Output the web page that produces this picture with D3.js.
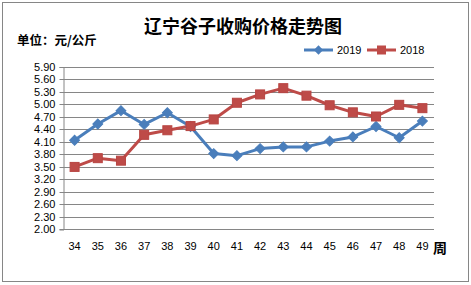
<!DOCTYPE html>
<html><head><meta charset="utf-8">
<script src="https://cdn.jsdelivr.net/npm/d3@7"></script>
<style>body{margin:0;background:#fff}svg{display:block}</style>
</head><body>
<script>
const weeks = ["34","35","36","37","38","39","40","41","42","43","44","45","46","47","48","49"];
const s2019 = [4.13,4.52,4.84,4.51,4.79,4.46,3.81,3.76,3.93,3.97,3.97,4.11,4.21,4.46,4.19,4.59];
const s2018 = [3.49,3.70,3.64,4.26,4.37,4.47,4.63,5.03,5.23,5.38,5.20,4.97,4.80,4.70,4.98,4.90];
const yTicks = [2.00,2.30,2.60,2.90,3.20,3.50,3.80,4.10,4.40,4.70,5.00,5.30,5.60,5.90];
const seriesNames = ["2019","2018"];
const colors = ["#4a7ebb","#be4b48"];

const W=471,H=285;
const svg=d3.select("body").append("svg").attr("width",W).attr("height",H);
svg.append("rect").attr("x",2.5).attr("y",2.5).attr("width",466).attr("height",279)
  .attr("fill","#fff").attr("stroke","#868686").attr("stroke-width",1);

const L=63,R=434,T=66.5,B=229;
const x=d3.scaleBand().domain(weeks).range([L,R]);
const y=d3.scaleLinear().domain([2.0,5.9]).range([B,T]);

// gridlines
svg.append("g").selectAll("line").data(yTicks).join("line")
  .attr("x1",L).attr("x2",R).attr("y1",d=>Math.round(y(d))+0.5).attr("y2",d=>Math.round(y(d))+0.5)
  .attr("stroke","#868686").attr("stroke-width",1);

// y axis
const ya=svg.append("g").attr("transform",`translate(${L+0.5},0.5)`)
  .call(d3.axisLeft(y).tickValues(yTicks).tickFormat(d3.format(".2f")).tickSize(4).tickPadding(4));
ya.select(".domain").attr("stroke","#868686");
ya.selectAll(".tick line").attr("stroke","#868686");
ya.selectAll("text").attr("font-family","Liberation Sans, Arial, sans-serif").attr("font-size",11).attr("fill","#000");
ya.selectAll(".tick").attr("transform",d=>`translate(0,${Math.round(y(d))})`);

// x labels
const xa=svg.append("g").attr("transform",`translate(0,${B})`)
  .call(d3.axisBottom(x).tickSize(0).tickPadding(13));
xa.select(".domain").remove();
xa.selectAll("text").attr("font-family","Liberation Sans, Arial, sans-serif").attr("font-size",11).attr("fill","#000");

svg.append("text").attr("x",440).attr("y",253).attr("text-anchor","middle")
  .attr("font-family","Noto Sans CJK SC").attr("font-weight","bold").attr("font-size",14).text("周");

// lines
const data=[s2019,s2018];
const line=d3.line().x((d,i)=>x(weeks[i])+x.bandwidth()/2).y(d=>y(d));
data.forEach((s,k)=>{
  svg.append("path").datum(s).attr("d",line).attr("fill","none").attr("stroke",colors[k]).attr("stroke-width",3).attr("stroke-linejoin","round");
});
// markers
svg.append("g").selectAll("path").data(s2019).join("path")
  .attr("transform",(d,i)=>`translate(${x(weeks[i])+x.bandwidth()/2},${y(d)}) rotate(45)`)
  .attr("d","M-3.5,-3.5h7v7h-7z").attr("fill",colors[0]).attr("stroke",colors[0]).attr("stroke-width",1);
svg.append("g").selectAll("rect").data(s2018).join("rect")
  .attr("x",(d,i)=>x(weeks[i])+x.bandwidth()/2-4.5).attr("y",d=>y(d)-4.5)
  .attr("width",9).attr("height",9).attr("fill",colors[1]).attr("stroke","#b84542").attr("stroke-width",1);

// title
svg.append("text").attr("x",243).attr("y",33).attr("text-anchor","middle")
  .attr("font-family","Noto Sans CJK SC").attr("font-weight","bold").attr("font-size",18).text("辽宁谷子收购价格走势图");
svg.append("text").attr("x",17).attr("y",45)
  .attr("font-family","Noto Sans CJK SC").attr("font-weight","bold").attr("font-size",12.5).text("单位：元/公斤");

// legend
const lg=[{x:304,n:seriesNames[0],c:colors[0],shape:"d"},{x:367,n:seriesNames[1],c:colors[1],shape:"s"}];
lg.forEach(o=>{
  svg.append("line").attr("x1",o.x).attr("x2",o.x+29).attr("y1",50).attr("y2",50).attr("stroke",o.c).attr("stroke-width",3);
  if(o.shape==="d") svg.append("path").attr("transform",`translate(${o.x+14.5},50) rotate(45)`).attr("d","M-3.3,-3.3h6.6v6.6h-6.6z").attr("fill",o.c);
  else svg.append("rect").attr("x",o.x+10).attr("y",45.5).attr("width",9).attr("height",9).attr("fill",o.c);
  svg.append("text").attr("x",o.x+33).attr("y",54).attr("font-family","Liberation Sans, Arial, sans-serif").attr("font-size",11).text(o.n);
});
</script>
</body></html>
